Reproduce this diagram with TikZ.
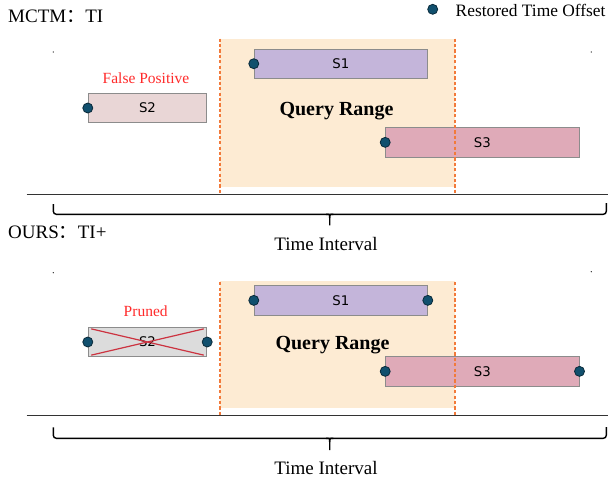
\documentclass[tikz,border=0pt]{standalone}
\usepackage{fontspec}
\setmainfont{Liberation Serif}
\newfontfamily\sfbox{DejaVu Sans}
\newfontfamily\cjk{Noto Sans CJK SC}
\definecolor{qfill}{HTML}{FDEBD3}
\definecolor{qline}{HTML}{F27A3A}
\definecolor{sone}{HTML}{C4B5DA}
\definecolor{stwo}{HTML}{E9D6D6}
\definecolor{sthree}{HTML}{DFAAB8}
\definecolor{sgray}{HTML}{DCDCDC}
\definecolor{boxgray}{HTML}{8C8C8C}
\definecolor{dotc}{HTML}{11506E}
\definecolor{dotd}{HTML}{0A2A3A}
\definecolor{axisc}{HTML}{333333}
\definecolor{redtxt}{HTML}{FF2A2A}
\definecolor{crossc}{HTML}{CC3340}
\begin{document}
\begin{tikzpicture}[x=1pt,y=-1pt,
  sbox/.style={draw=boxgray, line width=1pt, minimum height=29.3pt, inner sep=0pt, font=\sfbox\fontsize{13.3}{14}\selectfont},
  dot/.style={circle, fill=dotc, draw=dotd, line width=0.8pt, minimum size=10pt, inner sep=0pt},
  qrange/.style={fill=qfill, inner sep=0pt, outer sep=0pt, anchor=north west},
  qdash/.style={draw=qline, line width=1.3pt, dash pattern=on 3.2pt off 2.2pt},
  lbl/.style={font=\fontsize{19}{19}\selectfont, inner sep=0pt},
  qlbl/.style={font=\fontsize{20}{20}\selectfont\bfseries, inner sep=0pt, anchor=base},
  redlbl/.style={font=\fontsize{15.5}{16}\selectfont, text=redtxt, inner sep=0pt, anchor=base},
  axisline/.style={draw=axisc, line width=1.2pt},
  braceline/.style={draw=black, line width=1.4pt},
  tiny/.style={circle, fill=black, minimum size=1.3pt, inner sep=0pt}
]
\useasboundingbox (0,0) rectangle (608,483);

% ---------- legend ----------
\node[dot] (ldot) at (432.7,9.3) {};
\node[font=\fontsize{17.4}{18}\selectfont, inner sep=0pt, anchor=base west] (ltxt) at (455.5,16) {Restored Time Offset};

% ================= TOP PANEL =================
\node[lbl, anchor=base west] (ttitle) at (8,22) {MCTM{\cjk ：}TI};
\node[tiny] (tdl) at (53.3,52) {};
\node[tiny] (tdr) at (591.3,52) {};

\node[qrange, minimum width=235pt, minimum height=148.2pt] (qa) at (220,38.5) {};
\node[qlbl] (qta) at (336.5,115) {Query Range};

\node[sbox, fill=sone, minimum width=173pt] (s1a) at (340.8,63.7) {S1};
\node[sbox, fill=stwo, minimum width=118.4pt] (s2a) at (147.5,108) {S2};
\node[sbox, fill=sthree, minimum width=193.3pt] (s3a) at (482.35,142.35) {S3};
\node[redlbl] (fp) at (146,83.3) {False Positive};

\coordinate (axal) at (26.7,194.3);
\coordinate (axar) at (608,194.3);
\draw[axisline] (axal) -- (axar);
\draw[qdash] (qa.north west) -- (qa.north west |- axal);
\draw[qdash] (qa.north east) -- (qa.north east |- axal);

\node[dot] (d1a) at (s1a.west) {};
\node[dot] (d2a) at (s2a.west) {};
\node[dot] (d3a) at (s3a.west) {};

\draw[braceline, rounded corners=3pt] (53.3,204) -- (53.3,214.3) -- (606.3,214.3) -- (606.3,203);
\draw[braceline] (326,214.3) .. controls (329.7,214.3) .. (329.7,218) -- (329.7,225.3);
\draw[braceline] (333.4,214.3) .. controls (329.7,214.3) .. (329.7,218);
\node[lbl, anchor=base] (tia) at (326,250) {Time Interval};

% ================= BOTTOM PANEL =================
\node[lbl, anchor=base west] (btitle) at (8,238) {OURS{\cjk ：}TI+};
\node[tiny] (bdl) at (53.3,272.7) {};
\node[tiny] (bdr) at (591.3,271.7) {};

\node[qrange, minimum width=235pt, minimum height=127.6pt] (qb) at (220,280.7) {};
\node[qlbl] (qtb) at (332.5,349) {Query Range};

\node[sbox, fill=sone, minimum width=173pt] (s1b) at (340.8,300.35) {S1};
\node[sbox, fill=sgray, minimum width=118.4pt] (s2b) at (147.5,342) {S2};
\node[sbox, fill=sthree, minimum width=193.3pt] (s3b) at (482.35,371.35) {S3};
\node[redlbl] (pr) at (145.7,316.7) {Pruned};

\draw[crossc, line width=1.2pt] ([shift={(3.4,2)}]s2b.north west) -- ([shift={(-3.4,-2)}]s2b.south east);
\draw[crossc, line width=1.2pt] ([shift={(3.4,-2)}]s2b.south west) -- ([shift={(-3.4,2)}]s2b.north east);

\coordinate (axbl) at (26.7,415.7);
\coordinate (axbr) at (608,415.7);
\draw[axisline] (axbl) -- (axbr);
\draw[qdash] ([yshift=-1.4pt]qb.north west) -- (qb.north west |- axbl);
\draw[qdash] ([yshift=-1.4pt]qb.north east) -- (qb.north east |- axbl);

\node[dot] (d1b) at (s1b.west) {};
\node[dot] (d1c) at (s1b.east) {};
\node[dot] (d2b) at (s2b.west) {};
\node[dot] (d2c) at (s2b.east) {};
\node[dot] (d3b) at (s3b.west) {};
\node[dot] (d3c) at (s3b.east) {};

\draw[braceline, rounded corners=3pt] (53.3,427.3) -- (53.3,438.3) -- (606.3,438.3) -- (606.3,427);
\draw[braceline] (326,438.3) .. controls (329.7,438.3) .. (329.7,442) -- (329.7,450);
\draw[braceline] (333.4,438.3) .. controls (329.7,438.3) .. (329.7,442);
\node[lbl, anchor=base] (tib) at (326,474) {Time Interval};
\end{tikzpicture}
\end{document}
